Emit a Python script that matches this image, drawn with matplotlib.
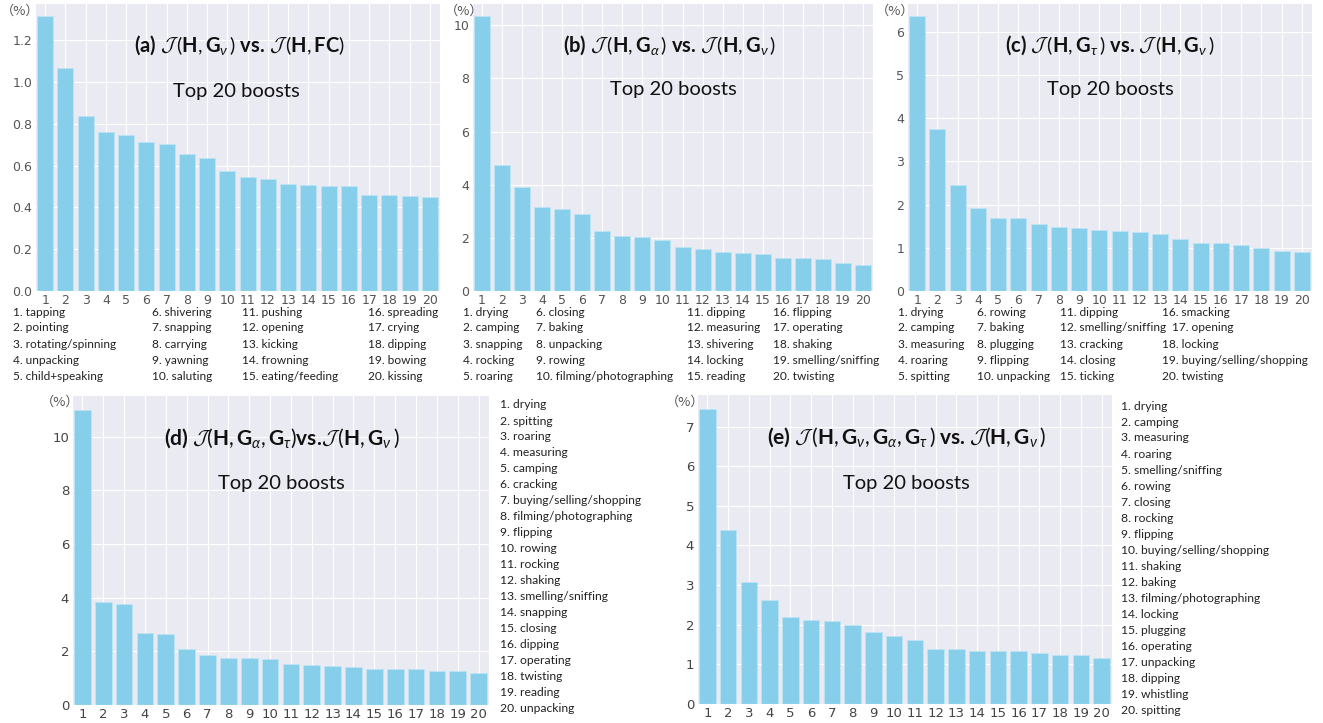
import numpy as np
import matplotlib.pyplot as plt
import seaborn as sns

sns.set_style("darkgrid")
plt.rcParams['font.family'] = ['Lato', 'DejaVu Sans']
plt.rcParams['mathtext.fontset'] = 'custom'
plt.rcParams['mathtext.rm'] = 'Lato'
plt.rcParams['mathtext.bf'] = 'Lato:bold'
plt.rcParams['mathtext.it'] = 'Lato:italic'
plt.rcParams['mathtext.cal'] = 'cmsy10'

W, H = 1323, 723
ranks = list(range(1, 21))

# (a) J(H,Gv) vs. J(H,FC)
boost_a = [1.315, 1.067, 0.840, 0.760, 0.749, 0.715, 0.706, 0.654, 0.638, 0.573,
           0.547, 0.534, 0.510, 0.506, 0.504, 0.504, 0.458, 0.458, 0.454, 0.451]
names_a = ["tapping", "pointing", "rotating/spinning", "unpacking", "child+speaking",
           "shivering", "snapping", "carrying", "yawning", "saluting",
           "pushing", "opening", "kicking", "frowning", "eating/feeding",
           "spreading", "crying", "dipping", "bowing", "kissing"]
yticks_a = [0.0, 0.2, 0.4, 0.6, 0.8, 1.0, 1.2]

# (b) J(H,Ga) vs. J(H,Gv)
boost_b = [10.34, 4.74, 3.91, 3.17, 3.09, 2.88, 2.26, 2.06, 2.04, 1.91,
           1.65, 1.58, 1.48, 1.43, 1.41, 1.25, 1.25, 1.22, 1.07, 0.98]
names_b = ["drying", "camping", "snapping", "rocking", "roaring",
           "closing", "baking", "unpacking", "rowing", "filming/photographing",
           "dipping", "measuring", "shivering", "locking", "reading",
           "flipping", "operating", "shaking", "smelling/sniffing", "twisting"]
yticks_b = [0, 2, 4, 6, 8, 10]

# (c) J(H,Gt) vs. J(H,Gv)
boost_c = [6.36, 3.75, 2.45, 1.92, 1.68, 1.68, 1.55, 1.49, 1.46, 1.415,
           1.40, 1.36, 1.31, 1.20, 1.12, 1.106, 1.06, 0.99, 0.92, 0.90]
names_c = ["drying", "camping", "measuring", "roaring", "spitting",
           "rowing", "baking", "plugging", "flipping", "unpacking",
           "dipping", "smelling/sniffing", "cracking", "closing", "ticking",
           "smacking", "opening", "locking", "buying/selling/shopping", "twisting"]
yticks_c = [0, 1, 2, 3, 4, 5, 6]

# (d) J(H,Ga,Gt) vs. J(H,Gv)
boost_d = [10.99, 3.83, 3.78, 2.68, 2.655, 2.07, 1.87, 1.74, 1.74, 1.71,
           1.54, 1.49, 1.46, 1.43, 1.35, 1.33, 1.33, 1.28, 1.25, 1.20]
names_d = ["drying", "spitting", "roaring", "measuring", "camping",
           "cracking", "buying/selling/shopping", "filming/photographing", "flipping", "rowing",
           "rocking", "shaking", "smelling/sniffing", "snapping", "closing",
           "dipping", "operating", "twisting", "reading", "unpacking"]
yticks_d = [0, 2, 4, 6, 8, 10]

# (e) J(H,Gv,Ga,Gt) vs. J(H,Gv)
boost_e = [7.45, 4.39, 3.08, 2.63, 2.19, 2.13, 2.09, 2.00, 1.815, 1.72,
           1.62, 1.39, 1.39, 1.33, 1.33, 1.33, 1.29, 1.24, 1.24, 1.16]
names_e = ["drying", "camping", "measuring", "roaring", "smelling/sniffing",
           "rowing", "closing", "rocking", "flipping", "buying/selling/shopping",
           "shaking", "baking", "filming/photographing", "locking", "plugging",
           "operating", "unpacking", "dipping", "whistling", "spitting"]
yticks_e = [0, 1, 2, 3, 4, 5, 6, 7]

titles = [
    r"(a) $\mathcal{J}\,(\mathbf{H},\mathbf{G}_{\nu}\,)$ vs. $\mathcal{J}\,(\mathbf{H},\mathbf{FC})$",
    r"(b) $\mathcal{J}\,(\mathbf{H},\mathbf{G}_{\alpha}\,)$ vs. $\mathcal{J}\,(\mathbf{H},\mathbf{G}_{\nu}\,)$",
    r"(c) $\mathcal{J}\,(\mathbf{H},\mathbf{G}_{\tau}\,)$ vs. $\mathcal{J}\,(\mathbf{H},\mathbf{G}_{\nu}\,)$",
    r"(d) $\mathcal{J}(\mathbf{H},\mathbf{G}_{\alpha},\mathbf{G}_{\tau})$vs.$\mathcal{J}\,(\mathbf{H},\mathbf{G}_{\nu}\,)$",
    r"(e) $\mathcal{J}\,(\mathbf{H},\mathbf{G}_{\nu},\mathbf{G}_{\alpha},\mathbf{G}_{\tau}\,)$ vs. $\mathcal{J}(\mathbf{H},\mathbf{G}_{\nu}\,)$",
]

fig = plt.figure(figsize=(W / 100, H / 100), dpi=100)


def px(x, y):
    return x / W, 1 - y / H


def make_axes(l, t, r, b):
    return fig.add_axes([l / W, 1 - b / H, (r - l) / W, (b - t) / H])


# pixel boxes: left, top, right, bottom, ymax
panels = [
    (35, 3, 440, 291, 1.379, boost_a, yticks_a, "{:.1f}"),
    (472, 3, 873, 291, 10.84, boost_b, yticks_b, "{:d}"),
    (907, 3, 1312, 291, 6.67, boost_c, yticks_c, "{:d}"),
    (72, 395, 489, 705, 11.55, boost_d, yticks_d, "{:d}"),
    (697, 394, 1112, 704, 7.82, boost_e, yticks_e, "{:d}"),
]
title_pos = [(240, 45, 236, 91), (670, 45, 673, 90), (1110, 45, 1110, 90),
             (282, 438, 281, 483), (906, 437, 906, 483)]
title_size = [14.5, 14.5, 14.5, 15, 15]
pct_pos = [(20, 11), (464, 11), (895, 11), (60, 402), (685, 402)]

for i, (l, t, r, b, ymax, vals, yt, fmt) in enumerate(panels):
    ax = make_axes(l, t, r, b)
    ax.bar(ranks, vals, width=0.8, color='#87CEEB', edgecolor='#bfe4f4',
           linewidth=0.6, zorder=2)
    ax.set_xlim(0.5, 20.5)
    ax.set_ylim(0, ymax)
    ax.set_xticks(ranks)
    ax.set_yticks(yt)
    ax.set_yticklabels([fmt.format(v) for v in yt])
    ax.tick_params(length=0, pad=2)
    for lab in ax.get_xticklabels() + ax.get_yticklabels():
        lab.set_family('DejaVu Sans')
        lab.set_fontsize(9 if i < 3 else 9.5)
        lab.set_color('#555555' if i < 3 else '#444444')
    tx, ty, sx, sy = title_pos[i]
    fig.text(*px(tx, ty), titles[i], ha='center', va='center',
             fontsize=title_size[i], fontweight='bold', color='#111111')
    fig.text(*px(sx, sy), "Top 20 boosts", ha='center', va='center',
             fontsize=14.5, color='#111111')
    fig.text(*px(*pct_pos[i]), "（%）", ha='center', va='center', fontsize=9.5,
             family=['Noto Sans CJK SC', 'DejaVu Sans'], color='#555555')

# lists below the top panels (x of each column, one per row)
list_cols = [(names_a, [[13] * 5, [152] * 5, [242] * 5, [368] * 5]),
             (names_b, [[463] * 5, [536] * 5, [687] * 5, [773] * 5]),
             (names_c, [[898] * 5, [977] * 5, [1060] * 5,
                        [1162, 1172, 1162, 1162, 1162]])]
row_y = [312, 328, 344, 360, 376]
for names, cols in list_cols:
    for k, name in enumerate(names):
        fig.text(*px(cols[k // 5][k % 5], row_y[k % 5]), f"{k + 1}. {name}",
                 ha='left', va='center', fontsize=8.6, color='#222222')

# lists right of the bottom panels
for names, x0, y0 in [(names_d, 500, 405), (names_e, 1121, 406)]:
    for k, name in enumerate(names):
        fig.text(*px(x0, y0 + 16 * k), f"{k + 1}. {name}", ha='left',
                 va='center', fontsize=8.7, color='#222222')

fig.savefig("out.png", dpi=100, facecolor='white')
